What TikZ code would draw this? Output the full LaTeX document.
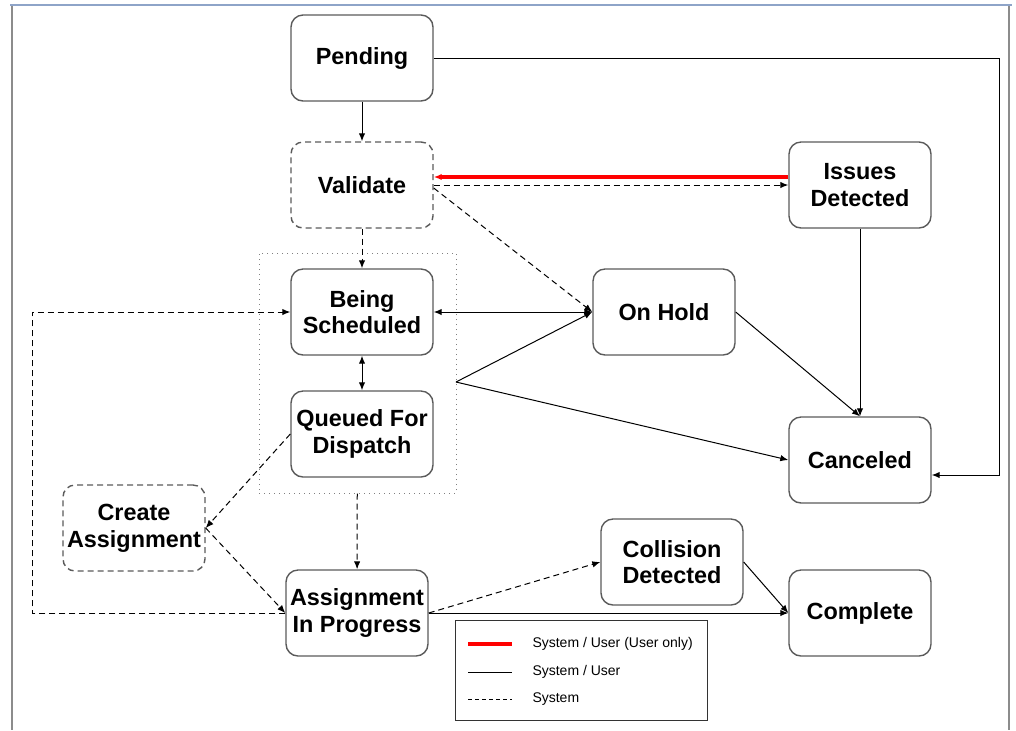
\documentclass[tikz,border=0pt]{standalone}
\usepackage{fontspec}
\setmainfont{Liberation Sans}
\usetikzlibrary{positioning, arrows.meta}
\definecolor{framegray}{HTML}{8C8C8C}
\definecolor{frameblue}{HTML}{8EA4C8}
\definecolor{boxgray}{HTML}{5A5A5A}

\begin{document}
\begin{tikzpicture}[x=0.5pt, y=-0.5pt, node distance={63.5pt}, line width=0.5pt,
                    >={Latex[length=4pt, width=3.2pt]},
                    stage/.style = {draw=boxgray, line width=0.7pt, rounded corners=6pt,
                        inner xsep=1pt, minimum width=71pt, minimum height=43pt, align=center,
                        font=\bfseries\fontsize{11.7}{13.3}\selectfont},
                    stagedash/.style = {stage, dash pattern=on 3pt off 2pt},
                    usr/.style = {->, red, line width=1.6pt},
                    sys/.style = {->, dash pattern=on 3pt off 2pt},
                    key/.style = {anchor=west, inner sep=0pt, font=\fontsize{7}{8}\selectfont}]
        \useasboundingbox (0,0) rectangle (1016,730);

        % page frame
        \draw[framegray, line width=1pt] (12,5) -- (12,730);
        \draw[framegray, line width=1pt] (1009,5) -- (1009,730);
        \draw[frameblue, line width=1pt] (10,5) -- (1012,5);

        \node[draw=gray, dotted, inner sep=0pt, minimum width=98.5pt,
              minimum height=120pt] (group) at (357.5,373) {};

        \node[stage] (pending) at (362,58) {Pending};
        \node[stagedash] (validate) [below of=pending] {Validate};
        \node[stage] (being) [below of=validate] {Being\\Scheduled};
        \node[stage] (queued) at (362,434) {Queued For\\Dispatch};
        \node[stage] (issues) at (860,185) {Issues\\Detected};
        \node[stage] (onhold) at (664,312) {On Hold};
        \node[stage] (canceled) at (860,460) {Canceled};
        \node[stagedash] (create) at (134,528) {Create\\Assignment};
        \node[stage] (inprog) at (357,613) {Assignment\\In Progress};
        \node[stage] (collision) at (672,562) {Collision\\Detected};
        \node[stage] (complete) at (860,613) {Complete};

        \coordinate (rbend) at (999,58);
        \coordinate (lbend) at (32,613);
        \coordinate (split) at (456,382);

        \draw[->] (pending) -- (validate);
        \draw[->] (pending.east) -- (rbend) |- ([yshift=-7.5pt]canceled.east);
        \draw[usr] ([yshift=4pt]issues.west) -- ([yshift=4pt]validate.east);
        \draw[sys] (validate.east) -- (issues.west);
        \draw[sys] ([yshift=-1.5pt]validate.east) -- (onhold.west);
        \draw[sys] (validate) -- (being);
        \draw[->] (issues) -- (canceled);
        \draw[->] (onhold.east) -- (canceled.north);
        \draw[<->] (being) -- (onhold);
        \draw[<->] (being) -- (queued);
        \draw[->] (split) -- (onhold.west);
        \draw[->] (split) -- (canceled.west);
        \draw[sys] (queued.west) -- (create.east);
        \draw[sys] (group) -- (inprog);
        \draw[sys] (create.east) -- (inprog.west);
        \draw[sys] (inprog.west) -- (lbend) |- (being.west);
        \draw[sys] (inprog.east) -- (collision.west);
        \draw[->] (inprog.east) -- (complete.west);
        \draw[->] (collision.east) -- (complete.west);

        % legend
        \node[draw=black!80, inner sep=0pt, minimum width=126pt,
              minimum height=50pt] (legend) at (581,670) {};
        \draw[red, line width=2pt] (468,644) -- (512,644);
        \draw (468,672) -- (512,672);
        \draw[dash pattern=on 2pt off 1.5pt] (468,699) -- (512,699);
        \node[key] (k1) at (532,644) {System / User (User only)};
        \node[key] (k2) at (532,672) {System / User};
        \node[key] (k3) at (532,699) {System};
    \end{tikzpicture}
\end{document}
